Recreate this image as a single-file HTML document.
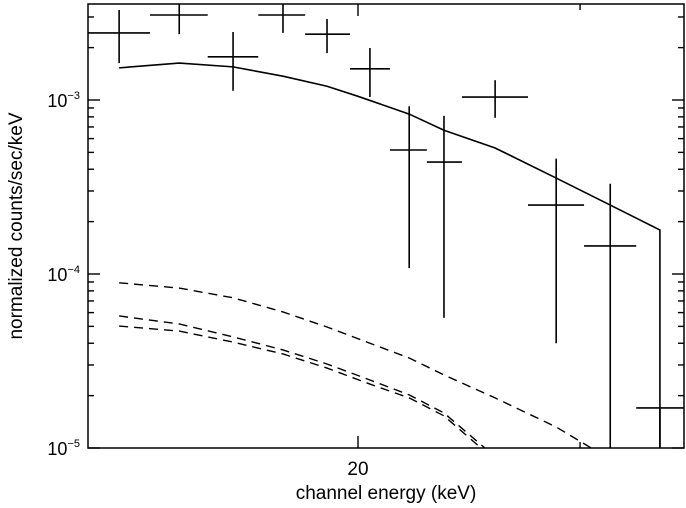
<!DOCTYPE html>
<html><head><meta charset="utf-8"><style>
html,body{margin:0;padding:0;background:#fff;overflow:hidden;width:686px;height:508px;}
svg{display:block;}
svg text{font-family:"Liberation Sans",Helvetica,sans-serif;fill:#000;}
</style></head><body>
<svg id="chart" width="686" height="508" xmlns="http://www.w3.org/2000/svg">
<defs><clipPath id="clip"><rect x="88" y="4" width="596" height="444"/></clipPath></defs>
<g id="marks" clip-path="url(#clip)"></g>
<g id="axes"></g>
<rect x="88" y="4" width="596" height="444" fill="none" stroke="#000" stroke-width="1.5"/>
<text x="386" y="499" font-size="19" text-anchor="middle">channel energy (keV)</text>
<text transform="translate(22,226) rotate(-90)" font-size="19" text-anchor="middle">normalized counts/sec/keV</text>
</svg>
<script>
const binLo=[12.2,13.68,15.2,16.67,18.16,19.71,21.2,22.68,24.18,27.28,30.22,33.24];
const binHi=[13.68,15.2,16.67,18.16,19.71,21.2,22.68,24.18,27.28,30.22,33.24,36.4];
const binE=[12.93,14.43,15.92,17.44,18.9,20.44,21.96,23.4,25.69,28.72,31.7,34.71];
const dataY=[2.43e-3,3.08e-3,1.77e-3,3.08e-3,2.39e-3,1.51e-3,5.16e-4,4.4e-4,1.04e-3,2.49e-4,1.45e-4,1.7e-5];
const errLo=[1.63e-3,2.39e-3,1.13e-3,2.43e-3,1.86e-3,1.04e-3,1.08e-4,5.6e-5,7.9e-4,4.0e-5,1e-6,1e-6];
const errHi=[3.29e-3,3.6e-3,2.46e-3,3.6e-3,2.92e-3,1.99e-3,9.2e-4,8.1e-4,1.30e-3,4.6e-4,3.3e-4,1.7e-5];
const modelE=[12.93,14.43,15.92,17.44,18.9,20,21.96,23.4,25.69,28.72,31.7,34.71];
const modelY=[1.53e-3,1.63e-3,1.55e-3,1.37e-3,1.20e-3,1.05e-3,8.3e-4,6.7e-4,5.3e-4,3.56e-4,2.49e-4,1.79e-4];
const compE=[12.93,14.43,15.92,17.44,18.9,20.44,21.96,23.4,25.69,28.72,31.7];
const comp1=[8.9e-5,8.3e-5,7.3e-5,6.05e-5,4.96e-5,4.0e-5,3.29e-5,2.63e-5,1.94e-5,1.32e-5,8.6e-6];
const comp2=[5.74e-5,5.16e-5,4.35e-5,3.66e-5,3.04e-5,2.46e-5,2.02e-5,1.59e-5,8.9e-6];
const comp3=[5.02e-5,4.7e-5,4.06e-5,3.47e-5,2.88e-5,2.33e-5,1.94e-5,1.53e-5,8.5e-6];
const yMajor=[1e-3,1e-4,1e-5];
const yMajorLabels=["−3","−4","−5"];
const xMajor=[20];
const xMinor=[30];

const NS="http://www.w3.org/2000/svg";
function X(e){return Math.min(686,358+1261*Math.log10(e/20));}
function Yraw(v){return 100-174*(Math.log10(v)+3);}
function Y(v){return Math.max(0,Math.min(460,Yraw(v)));}
function mk(tag,attrs,parent){const el=document.createElementNS(NS,tag);for(const k in attrs)el.setAttribute(k,attrs[k]);parent.appendChild(el);return el;}
const marks=document.getElementById('marks'),axes=document.getElementById('axes');
const st={stroke:"#000","stroke-width":1.6,fill:"none"};
for(let i=0;i<binE.length;i++){
  const g=mk('g',{},marks);
  
  
  mk('line',Object.assign({x1:X(binLo[i]),x2:X(binHi[i]),y1:Y(dataY[i]),y2:Y(dataY[i])},st),g);
  mk('line',Object.assign({x1:X(binE[i]),x2:X(binE[i]),y1:Y(errLo[i]),y2:Y(errHi[i])},st),g);
}
let d=modelE.map((e,i)=>(i?'L':'M')+X(e)+','+Y(modelY[i])).join(' ');
d+=' L'+X(modelE[modelE.length-1])+',448';
const mp=mk('path',Object.assign({d:d},st),marks);


[comp1,comp2,comp3].forEach((c,j)=>{
  const p=mk('path',Object.assign({d:c.map((v,i)=>(i?'L':'M')+X(compE[i])+','+Yraw(v)).join(' '),"stroke-dasharray":"9,6"},st,{"stroke-width":1.4}),marks);
  
  
});
const ts={stroke:"#000","stroke-width":1.4};
yMajor.forEach((v,i)=>{
  const y=Yraw(v);
  mk('line',Object.assign({x1:88,x2:100,y1:y,y2:y},ts),axes);
  mk('line',Object.assign({x1:672,x2:684,y1:y,y2:y},ts),axes);
  const t=mk('text',{x:80,y:y+7,"font-size":18,"text-anchor":"end"},axes);
  
  
  t.textContent='10';
  const s=mk('tspan',{dy:-8,"font-size":11},t);s.textContent=yMajorLabels[i];
  if(i<yMajor.length-1)for(let m=2;m<10;m++){
    const yy=Yraw(v*m/10);
    mk('line',Object.assign({x1:88,x2:94,y1:yy,y2:yy},ts),axes);
    mk('line',Object.assign({x1:678,x2:684,y1:yy,y2:yy},ts),axes);
  }
});
for(let m=2;m<=3;m++){const yy=Yraw(1e-3*m);mk('line',Object.assign({x1:88,x2:94,y1:yy,y2:yy},ts),axes);mk('line',Object.assign({x1:678,x2:684,y1:yy,y2:yy},ts),axes);}
xMajor.forEach(e=>{
  const x=X(e);
  mk('line',Object.assign({x1:x,x2:x,y1:448,y2:436},ts),axes);
  mk('line',Object.assign({x1:x,x2:x,y1:4,y2:16},ts),axes);
  const t=mk('text',{x:x,y:475,"font-size":19,"text-anchor":"middle"},axes);
  
  
  t.textContent=String(e);
});
xMinor.forEach(e=>{
  const x=X(e);
  mk('line',Object.assign({x1:x,x2:x,y1:448,y2:442},ts),axes);
  mk('line',Object.assign({x1:x,x2:x,y1:4,y2:10},ts),axes);
});
</script>
</body></html>
